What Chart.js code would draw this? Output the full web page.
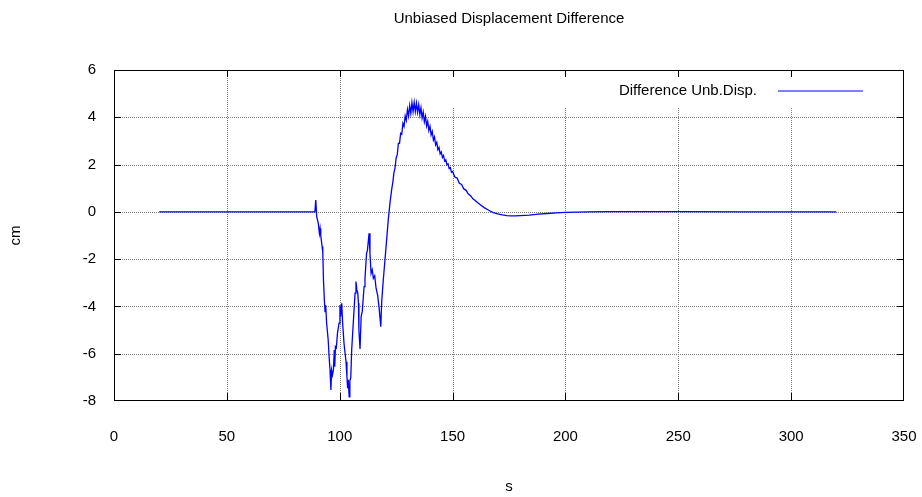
<!DOCTYPE html>
<html>
<head>
<meta charset="utf-8">
<title>Unbiased Displacement Difference</title>
<script src="https://cdn.jsdelivr.net/npm/chart.js@4.4.1/dist/chart.umd.min.js"></script>
<style>
  html, body { margin: 0; padding: 0; background: #fff; overflow: hidden; }
  #wrap { width: 922px; height: 497px; position: relative; }
</style>
</head>
<body>
<div id="wrap"><canvas id="diffChart"></canvas></div>
<script>
// time (s) and unbiased displacement difference (cm)
const seconds = [
  20, 89.0, 89.4, 89.8, 90.5, 91.0, 91.3, 91.6, 92.2, 92.5,
  92.8, 93.2, 93.5, 93.8, 94.2, 94.9, 95.3, 95.7, 96.1, 96.4,
  96.8, 97.2, 97.6, 97.8, 98.1, 98.5, 99.0, 99.7, 100.1, 100.4,
  100.9, 101.3, 101.9, 102.8, 103.2, 103.5, 103.8, 104.2, 104.5, 104.9,
  105.3, 106.0, 106.8, 107.2, 107.6, 108.0, 108.3, 108.5, 109.0, 109.5,
  110.0, 110.8, 111.2, 111.9, 112.3, 113.0, 113.4, 113.9, 114.4, 114.9,
  115.5, 116.1, 116.8, 117.4, 118.2, 118.6, 119.3, 120.3, 121.5, 122.3,
  123.0, 123.6, 124.0, 124.5, 125.0, 125.5, 126.0, 126.5, 127.0, 127.5,
  128.0, 128.5, 129.0, 129.5, 130.0, 130.5, 131.0, 131.5, 132.0, 132.5,
  133.0, 133.5, 134.0, 134.5, 135.0, 135.5, 136.0, 136.5, 137.0, 137.5,
  138.0, 138.5, 139.0, 139.5, 140.0, 140.5, 141.0, 141.5, 142.0, 142.5,
  143.0, 143.5, 144.0, 144.5, 145.0, 145.5, 146.0, 146.5, 147.0, 147.5,
  148.0, 148.5, 149.0, 149.5, 150.0, 151, 152, 153, 154, 155,
  156, 157, 158, 159, 160, 162, 164, 166, 168, 170,
  172, 174, 176, 178, 180, 184, 188, 192, 196, 200,
  205, 210, 220, 250, 280, 320
];
const diffCm = [
  0, 0, 0.5, -0.2, -0.48, -0.91, -0.7, -1.0, -1.47, -1.7,
  -2.88, -3.73, -4.22, -3.95, -4.71, -5.42, -6.13, -6.69, -7.53, -6.69,
  -6.9, -6.69, -5.84, -6.55, -5.7, -5.75, -5.14, -4.71, -3.94, -4.43,
  -3.87, -4.71, -5.56, -6.34, -6.97, -7.46, -7.1, -7.82, -7.15, -7.0,
  -5.84, -4.71, -3.44, -2.95, -3.3, -3.44, -3.87, -5.0, -5.8, -4.43,
  -4.2, -3.16, -2.81, -1.75, -1.61, -0.91, -1.75, -2.6, -2.45, -2.81,
  -2.7, -3.23, -3.52, -4.01, -4.86, -3.8, -2.88, -1.75, -0.34, 0.4,
  0.93, 1.3, 1.65, 1.85, 2.28, 2.42, 2.9, 2.9, 3.32, 3.28,
  3.74, 3.61, 4.06, 3.87, 4.33, 4.05, 4.5, 4.16, 4.62, 4.24,
  4.63, 4.24, 4.6, 4.21, 4.53, 4.11, 4.4, 3.97, 4.22, 3.81,
  4.04, 3.63, 3.83, 3.44, 3.62, 3.25, 3.4, 3.04, 3.17, 2.83,
  2.94, 2.63, 2.72, 2.45, 2.53, 2.3, 2.38, 2.15, 2.2, 1.99,
  2.03, 1.83, 1.87, 1.68, 1.71, 1.47, 1.43, 1.21, 1.16, 0.97,
  0.91, 0.75, 0.68, 0.55, 0.48, 0.32, 0.18, 0.07, -0.03, -0.09,
  -0.13, -0.16, -0.17, -0.17, -0.16, -0.14, -0.1, -0.07, -0.04, -0.02,
  -0.01, 0, 0.01, 0.01, 0, 0
];
const xTicks = [0, 50, 100, 150, 200, 250, 300, 350];
const yTicks = [-8, -6, -4, -2, 0, 2, 4, 6];

const chartTitle = 'Unbiased Displacement Difference';
const seriesLabel = 'Difference Unb.Disp.';
const lineColor = '#0000ff';

Chart.defaults.font.family = '"Liberation Sans", Arial, Helvetica, sans-serif';
Chart.defaults.font.size = 15;
Chart.defaults.color = '#000';

// gnuplot-style frame: dotted grid, full border with inward tics, title and key
const gnuFrame = {
  id: 'gnuFrame',
  beforeDatasetsDraw(chart) {
    const { ctx, chartArea: a, scales: { x, y } } = chart;
    ctx.save();
    ctx.strokeStyle = '#808080';
    ctx.lineWidth = 1;
    ctx.setLineDash([1, 1]);
    ctx.beginPath();
    xTicks.slice(1, -1).forEach(v => {
      const px = Math.round(x.getPixelForValue(v)) + 0.5;
      ctx.moveTo(px, a.top);
      ctx.lineTo(px, a.bottom);
    });
    yTicks.slice(1, -1).forEach(v => {
      const py = Math.round(y.getPixelForValue(v)) + 0.5;
      ctx.moveTo(a.left, py);
      ctx.lineTo(a.right, py);
    });
    ctx.stroke();
    // key area stays clear of the grid
    ctx.fillStyle = '#fff';
    ctx.fillRect(400, a.top + 1, a.right - 402, 37);
    ctx.restore();
  },
  afterDraw(chart) {
    const { ctx, chartArea: a, scales: { x, y } } = chart;
    const tic = 7;
    const l = Math.round(x.getPixelForValue(xTicks[0]));
    const r = Math.round(x.getPixelForValue(xTicks[xTicks.length - 1])) - 1;
    const t = Math.round(y.getPixelForValue(yTicks[yTicks.length - 1]));
    const b = Math.round(y.getPixelForValue(yTicks[0])) - 1;
    ctx.save();
    ctx.fillStyle = '#000';
    // border as filled 1px strips
    ctx.fillRect(l, t, r - l + 1, 1);
    ctx.fillRect(l, b, r - l + 1, 1);
    ctx.fillRect(l, t, 1, b - t + 1);
    ctx.fillRect(r, t, 1, b - t + 1);
    xTicks.forEach(v => {
      const px = Math.min(Math.round(x.getPixelForValue(v)), r);
      ctx.fillRect(px, b - tic, 1, tic);
      ctx.fillRect(px, t, 1, tic);
    });
    yTicks.forEach(v => {
      const py = Math.min(Math.round(y.getPixelForValue(v)), b);
      ctx.fillRect(l, py, tic, 1);
      ctx.fillRect(r - tic + 1, py, tic, 1);
    });

    ctx.font = '15px "Liberation Sans", Arial, sans-serif';
    ctx.textBaseline = 'middle';
    ctx.textAlign = 'center';
    ctx.fillText(chartTitle, (a.left + a.right) / 2, 19);

    ctx.textAlign = 'right';
    ctx.fillText(seriesLabel, 757, 91);
    ctx.strokeStyle = lineColor;
    ctx.lineWidth = 1;
    ctx.beginPath();
    ctx.moveTo(778, 91);
    ctx.lineTo(863, 91);
    ctx.stroke();
    ctx.restore();
  }
};

new Chart(document.getElementById('diffChart'), {
  type: 'line',
  data: {
    datasets: [{
      label: seriesLabel,
      data: seconds.map((s, i) => ({ x: s, y: diffCm[i] })),
      borderColor: lineColor,
      borderWidth: 1.3,
      pointRadius: 0,
      tension: 0,
      fill: false
    }]
  },
  options: {
    responsive: true,
    maintainAspectRatio: false,
    animation: false,
    devicePixelRatio: 1,
    layout: { padding: { top: 70, right: 18, left: 0, bottom: 0 } },
    plugins: {
      legend: { display: false },
      title: { display: false },
      tooltip: { enabled: false }
    },
    scales: {
      x: {
        type: 'linear',
        min: 0,
        max: 350,
        // fixed axis band; edge labels may hang past the plot area
        afterFit: s => { s.height = 96; s.paddingLeft = 0; s.paddingRight = 0; },
        afterBuildTicks: s => { s.ticks = xTicks.map(v => ({ value: v })); },
        ticks: { padding: 27, maxRotation: 0 },
        grid: { display: false, drawTicks: false },
        border: { display: false },
        title: { display: true, text: 's', padding: { top: 0, bottom: 1 } }
      },
      y: {
        min: -8,
        max: 6,
        afterFit: s => { s.width = 114; s.paddingTop = 0; s.paddingBottom = 0; },
        afterBuildTicks: s => { s.ticks = yTicks.map(v => ({ value: v })); },
        ticks: { padding: 18 },
        grid: { display: false, drawTicks: false },
        border: { display: false },
        title: { display: true, text: 'cm', padding: { top: 7, bottom: 0 } }
      }
    }
  },
  plugins: [gnuFrame]
});
</script>
</body>
</html>
